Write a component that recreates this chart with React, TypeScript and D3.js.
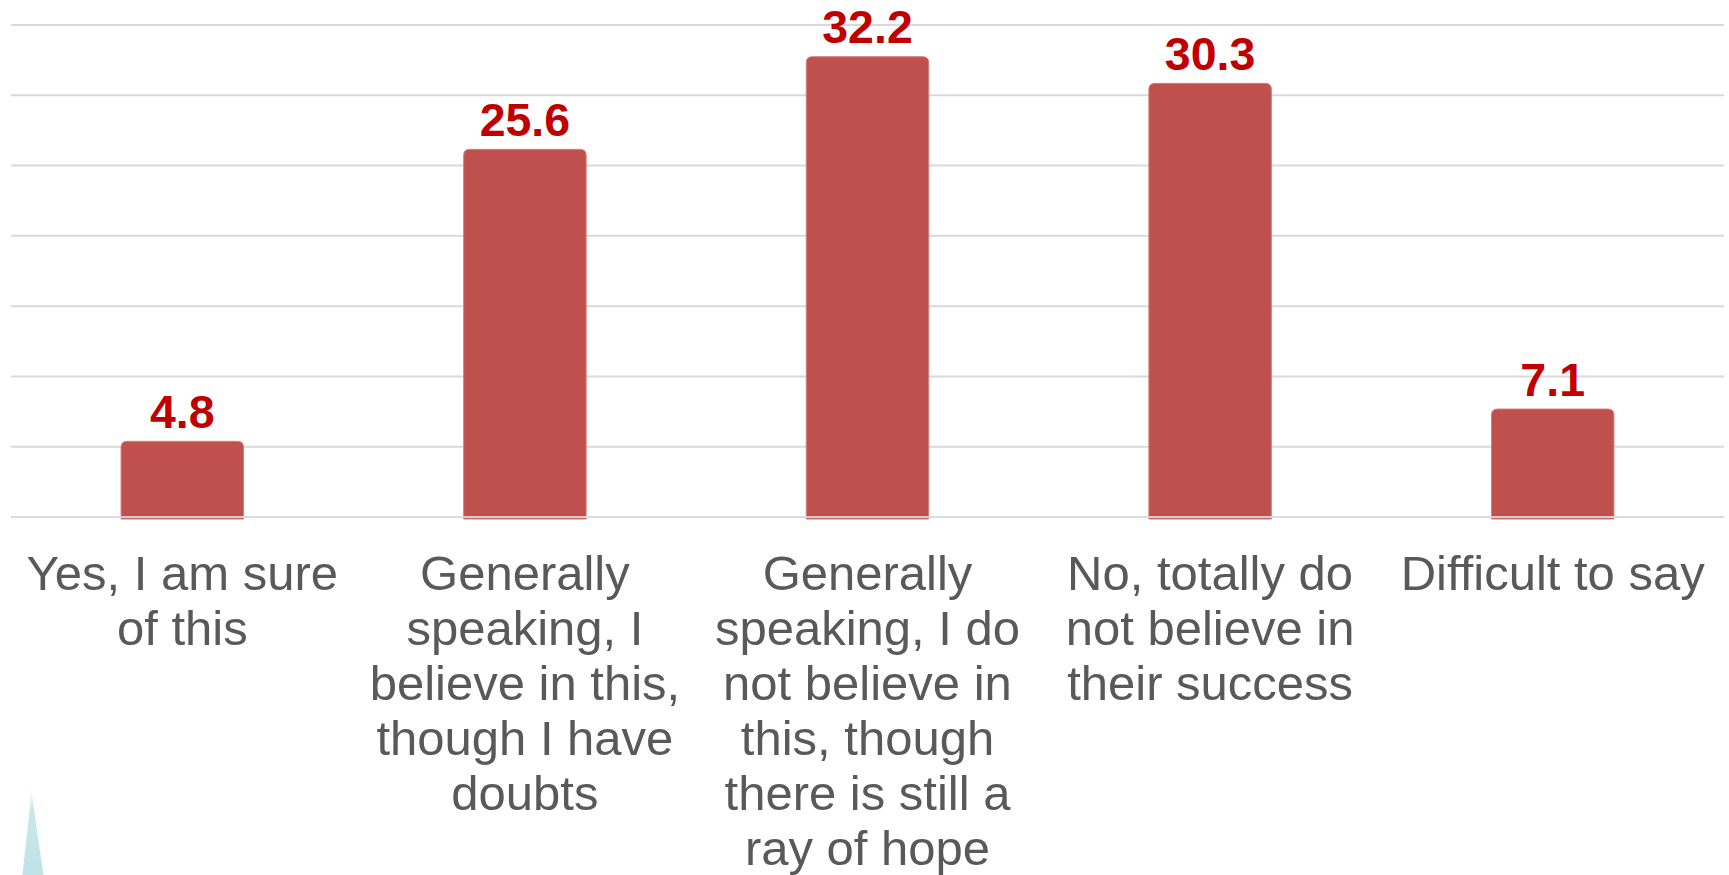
import React from "react";
import * as d3 from "d3";

const categories: string[][] = [
  ["Yes, I am sure", "of this"],
  ["Generally", "speaking, I", "believe in this,", "though I have", "doubts"],
  ["Generally", "speaking, I do", "not believe in", "this, though", "there is still a", "ray of hope"],
  ["No, totally do", "not believe in", "their success"],
  ["Difficult to say"],
];
const values: number[] = [4.8, 25.6, 32.2, 30.3, 7.1];
const valueLabels: string[] = ["4.8", "25.6", "32.2", "30.3", "7.1"];
const gridValues: number[] = [0, 5, 10, 15, 20, 25, 30, 35];

const W = 1729;
const H = 875;
const BAR_COLOR = "#C0504D";
const LABEL_COLOR = "#C00000";
const CAT_COLOR = "#595959";
const GRID_COLOR = "#D9D9D9";
const FONT = "'Liberation Sans', Arial, sans-serif";

export default function App() {
  const keys = categories.map((_, i) => String(i));
  const x = d3
    .scaleBand<string>()
    .domain(keys)
    .range([11, 1724])
    .paddingInner(0.6425)
    .paddingOuter(0.32125);
  // grid scale
  const y = d3.scaleLinear().domain([0, 35]).range([517, 25]);
  // bars in the source sit slightly above the grid baseline
  const yBar = d3.scaleLinear().domain([0, 35]).range([508.7, 17.4]);
  const barBottom = 519;
  const r = 6;

  const barPath = (x0: number, x1: number, top: number, bottom: number) => {
    const p = d3.path();
    p.moveTo(x0, bottom);
    p.lineTo(x0, top + r);
    p.quadraticCurveTo(x0, top, x0 + r, top);
    p.lineTo(x1 - r, top);
    p.quadraticCurveTo(x1, top, x1, top + r);
    p.lineTo(x1, bottom);
    p.closePath();
    return p.toString();
  };

  const [x0, x1] = x.range();

  return (
    <svg
      width={W}
      height={H}
      style={{ position: "absolute", left: 0, top: 0, background: "#fff" }}
    >
      <defs>
        <linearGradient id="teal" x1="0" y1="0" x2="0" y2="1">
          <stop offset="0" stopColor="#CFEAED" stopOpacity={0.2} />
          <stop offset="0.25" stopColor="#C4E5E8" stopOpacity={0.9} />
          <stop offset="1" stopColor="#BFE2E6" stopOpacity={1} />
        </linearGradient>
      </defs>
      <path d="M31.5,788 C29,820 25,850 22.5,875 L43.5,875 C40,850 35,820 31.5,788 Z" fill="url(#teal)" />
      {gridValues.slice(1).map((g) => (
        <line key={g} x1={x0} x2={x1} y1={y(g)} y2={y(g)} stroke={GRID_COLOR} strokeWidth={2} />
      ))}
      {values.map((v, i) => {
        const bx = x(String(i))!;
        const bw = x.bandwidth();
        return (
          <path
            key={i}
            d={barPath(bx, bx + bw, yBar(v), barBottom)}
            fill={BAR_COLOR}
            stroke="#D27F7D"
            strokeWidth={1}
          />
        );
      })}
      <line x1={x0} x2={x1} y1={y(0)} y2={y(0)} stroke={GRID_COLOR} strokeWidth={2} opacity={0.9} />
      {values.map((v, i) => (
        <text
          key={i}
          x={x(String(i))! + x.bandwidth() / 2}
          y={yBar(v) - 13.4}
          textAnchor="middle"
          fontFamily={FONT}
          fontWeight="bold"
          fontSize={46.5}
          fill={LABEL_COLOR}
        >
          {valueLabels[i]}
        </text>
      ))}
      {categories.map((lines, i) => (
        <text
          key={i}
          x={x(String(i))! + x.bandwidth() / 2}
          y={590}
          textAnchor="middle"
          fontFamily={FONT}
          fontSize={49}
          fill={CAT_COLOR}
        >
          {lines.map((ln, j) => (
            <tspan key={j} x={x(String(i))! + x.bandwidth() / 2} dy={j === 0 ? 0 : 55}>
              {ln}
            </tspan>
          ))}
        </text>
      ))}
    </svg>
  );
}
